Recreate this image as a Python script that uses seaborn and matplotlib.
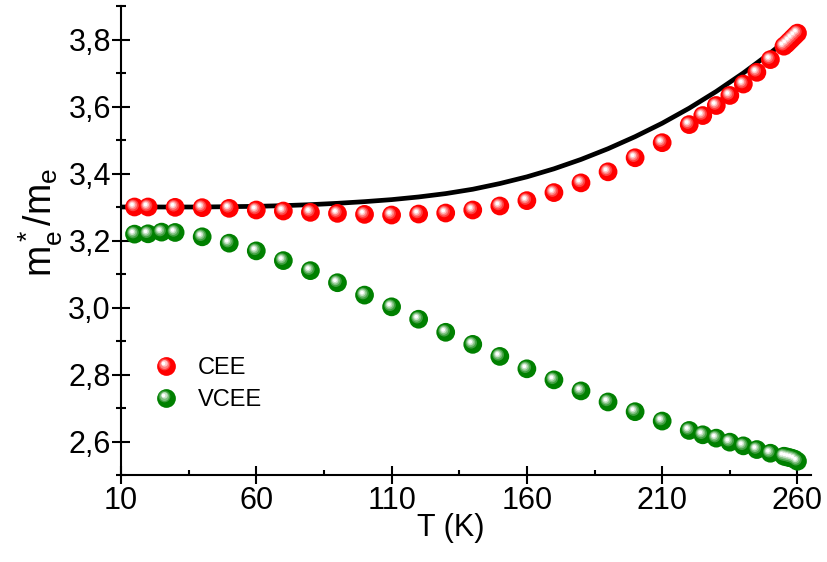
import numpy as np
import pandas as pd
import matplotlib
matplotlib.use("Agg")
import matplotlib.pyplot as plt
import seaborn as sns
from matplotlib.transforms import offset_copy
from matplotlib.ticker import FixedLocator, FuncFormatter
from matplotlib.legend_handler import HandlerBase
from matplotlib.lines import Line2D
import matplotlib.colors as mcolors

# ---------------- data ----------------
T_cee = [15, 20, 30, 40, 50, 60, 70, 80, 90, 100, 110, 120, 130, 140, 150, 160, 170,
         180, 190, 200, 210, 220, 225, 230, 235, 240, 245, 250, 255, 256, 257, 258, 259, 260]
m_cee = [3.300, 3.300, 3.299, 3.298, 3.296, 3.291, 3.288, 3.284, 3.281, 3.278, 3.276,
         3.279, 3.282, 3.291, 3.303, 3.319, 3.343, 3.372, 3.405, 3.447, 3.492, 3.546,
         3.573, 3.603, 3.633, 3.667, 3.702, 3.740, 3.780, 3.787, 3.795, 3.803, 3.811, 3.819]

T_vcee = [15, 20, 25, 30, 40, 50, 60, 70, 80, 90, 100, 110, 120, 130, 140, 150, 160,
          170, 180, 190, 200, 210, 220, 225, 230, 235, 240, 245, 250, 255, 256, 257,
          258, 259, 260]
m_vcee = [3.219, 3.220, 3.225, 3.224, 3.211, 3.192, 3.169, 3.140, 3.110, 3.074, 3.037,
          3.002, 2.965, 2.926, 2.890, 2.854, 2.817, 2.784, 2.751, 2.718, 2.689, 2.661,
          2.633, 2.620, 2.610, 2.598, 2.587, 2.576, 2.565, 2.556, 2.554, 2.552, 2.550,
          2.547, 2.541]

T_fit = [10, 20, 30, 40, 50, 60, 70, 80, 90, 100, 110, 120, 130, 140, 150, 160, 170,
         180, 190, 200, 210, 220, 230, 240, 250, 258]
m_fit = [3.300, 3.300, 3.300, 3.300, 3.301, 3.302, 3.304, 3.307, 3.311, 3.316, 3.322,
         3.330, 3.340, 3.353, 3.370, 3.390, 3.414, 3.442, 3.474, 3.510, 3.550, 3.595,
         3.645, 3.700, 3.760, 3.812]

series_names = ["CEE", "VCEE"]
series_colors = ["#ff0000", "#008000"]
x_ticks = [10, 60, 110, 160, 210, 260]
y_ticks = [2.6, 2.8, 3.0, 3.2, 3.4, 3.6, 3.8]

# ---------------- style ----------------
sns.set_style("ticks")
plt.rcParams["font.family"] = ["Liberation Sans", "DejaVu Sans"]
plt.rcParams["mathtext.fontset"] = "custom"
plt.rcParams["mathtext.rm"] = "Liberation Sans"
plt.rcParams["mathtext.it"] = "Liberation Sans"
plt.rcParams["text.color"] = "black"
plt.rcParams["axes.labelcolor"] = "black"
plt.rcParams["xtick.color"] = "black"
plt.rcParams["ytick.color"] = "black"
plt.rcParams["axes.edgecolor"] = "black"

DPI = 100
fig = plt.figure(figsize=(8.28, 5.62), dpi=DPI)
ax = fig.add_axes([121 / 828, (562 - 475) / 562, (811 - 121) / 828, (475 - 6) / 562])

df = pd.concat([
    pd.DataFrame({"T": T_cee, "m": m_cee, "s": series_names[0]}),
    pd.DataFrame({"T": T_vcee, "m": m_vcee, "s": series_names[1]}),
])
fit_df = pd.DataFrame({"T": T_fit, "m": m_fit})

sns.lineplot(data=fit_df, x="T", y="m", ax=ax, color="black", lw=3.4, zorder=2,
             sort=True, legend=False)

MS = 13.5  # marker diameter in points
palette = dict(zip(series_names, series_colors))
sns.scatterplot(data=df, x="T", y="m", hue="s", palette=palette, s=MS ** 2,
                edgecolor="none", linewidth=0, ax=ax, zorder=3, legend=False)


def mix(c, f):
    r = np.array(mcolors.to_rgb(c))
    return tuple(r + (1 - r) * f)


layers = [(0.62, 0.25, 1.6), (0.48, 0.5, 2.0), (0.34, 0.78, 2.3), (0.2, 1.0, 2.5)]
for name, col in zip(series_names, series_colors):
    sub = df[df["s"] == name]
    for frac, f, off in layers:
        tr = offset_copy(ax.transData, fig=fig, x=-off, y=off, units="dots")
        ax.scatter(sub["T"], sub["m"], s=(MS * frac) ** 2, color=mix(col, f),
                   edgecolor="none", linewidth=0, transform=tr, zorder=4)

# ---------------- axes ----------------
ax.set_xlim(10, 265)
ax.set_ylim(2.5, 3.9)
for sp in ["top", "right"]:
    ax.spines[sp].set_visible(False)
for sp in ["left", "bottom"]:
    ax.spines[sp].set_linewidth(1.5)
    ax.spines[sp].set_color("black")

ax.xaxis.set_major_locator(FixedLocator(x_ticks))
ax.xaxis.set_minor_locator(FixedLocator([t + 25 for t in x_ticks[:-1]]))
ax.yaxis.set_major_locator(FixedLocator(y_ticks))
ax.yaxis.set_minor_locator(FixedLocator([2.5, 2.7, 2.9, 3.1, 3.3, 3.5, 3.7, 3.9]))
ax.yaxis.set_major_formatter(FuncFormatter(lambda v, p: f"{v:.1f}".replace(".", ",")))
ax.xaxis.set_major_formatter(FuncFormatter(lambda v, p: f"{int(round(v))}"))

ax.tick_params(axis="both", which="major", direction="inout", length=12.5, width=1.5,
               labelsize=22, colors="black")
ax.tick_params(axis="x", which="major", pad=2)
ax.tick_params(axis="y", which="major", pad=1)
ax.tick_params(axis="x", which="minor", direction="in", length=3.5, width=1.5)
ax.tick_params(axis="y", which="minor", direction="inout", length=7, width=1.5)

ax.set_xlabel("T (K)", fontsize=22, color="black")
ax.set_ylabel(r"$\mathregular{m^*_e/m_e}$", fontsize=27, color="black")
ax.xaxis.set_label_coords((451 - 121) / 690, -(528 - 475) / 469, transform=ax.transAxes)
ax.yaxis.set_label_coords(-(121 - 41) / 690, (475 - 222) / 469, transform=ax.transAxes)
ax.xaxis.label.set_va("center")
ax.yaxis.label.set_va("center")


# ---------------- legend with sphere markers ----------------
class SphereHandler(HandlerBase):
    def __init__(self, color):
        super().__init__()
        self.color = color

    def create_artists(self, legend, orig_handle, xdescent, ydescent, width, height,
                       fontsize, trans):
        cx = width / 2 - xdescent
        cy = height / 2 - ydescent
        arts = []
        base = Line2D([cx], [cy], marker="o", markersize=MS, color=self.color,
                      markeredgewidth=0, linestyle="none", transform=trans)
        arts.append(base)
        for frac, f, off in layers:
            o = off * 72 / DPI
            a = Line2D([cx - o], [cy + o], marker="o", markersize=MS * frac,
                       color=mix(self.color, f), markeredgewidth=0, linestyle="none",
                       transform=trans)
            arts.append(a)
        return arts


handles = [Line2D([], [], color=c) for c in series_colors]
leg = ax.legend(handles, series_names,
                handler_map={h: SphereHandler(c) for h, c in zip(handles, series_colors)},
                loc="upper left", bbox_to_anchor=(154 / 828, 1 - 357 / 562),
                bbox_transform=fig.transFigure, frameon=False, fontsize=17,
                handlelength=1.0, handletextpad=0.85, labelspacing=0.42,
                borderpad=0, borderaxespad=0)
for t in leg.get_texts():
    t.set_color("black")

fig.savefig("out.png", dpi=DPI)
